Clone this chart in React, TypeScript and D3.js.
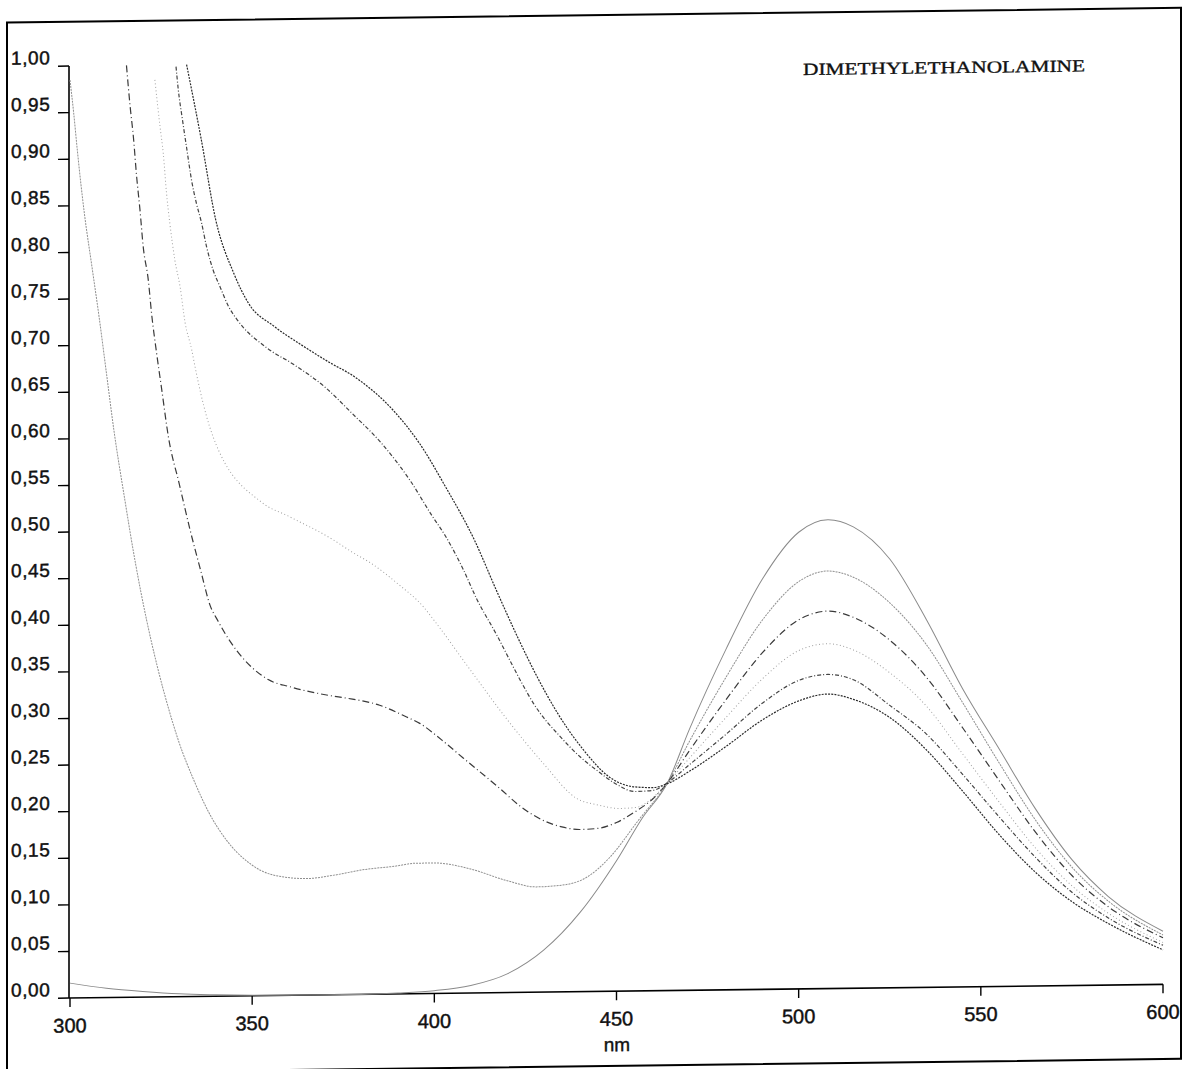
import React from 'react';
import * as d3 from 'd3';

const W = 1186;
const H = 1069;

const xTicks = [300, 350, 400, 450, 500, 550, 600];
const yTicks = [0, 0.05, 0.1, 0.15, 0.2, 0.25, 0.3, 0.35, 0.4, 0.45, 0.5, 0.55, 0.6, 0.65, 0.7, 0.75, 0.8, 0.85, 0.9, 0.95, 1.0];
const title = 'DIMETHYLETHANOLAMINE';
const xLabel = 'nm';

// [nm, absorbance]
const curveA: [number, number][] = [
  [300, 0.016], [310, 0.01], [320, 0.006], [330, 0.003], [340, 0.0015], [350, 0.0005], [360, 0.0], [370, 0.0], [380, 0.0],
  [390, 0.001], [400, 0.003], [410, 0.008], [420, 0.02], [430, 0.045], [440, 0.085], [450, 0.14], [457, 0.185], [464, 0.223],
  [470, 0.28], [480, 0.365], [490, 0.44], [500, 0.49], [508, 0.503], [515, 0.495], [525, 0.46], [535, 0.395], [545, 0.32],
  [555, 0.255], [565, 0.19], [575, 0.135], [585, 0.095], [600, 0.057],
];
const curveB: [number, number][] = [
  [300, 0.985], [301, 0.95], [302, 0.91], [303, 0.873], [304, 0.84], [306, 0.785], [308, 0.73], [310, 0.67], [312, 0.61],
  [315, 0.535], [318, 0.465], [321, 0.405], [324, 0.354], [327, 0.31], [330, 0.272], [334, 0.232], [338, 0.198], [343, 0.167],
  [349, 0.143], [356, 0.129], [365, 0.125], [372, 0.128], [381, 0.134], [389, 0.137], [395, 0.14], [400, 0.14], [410, 0.133],
  [420, 0.12], [428, 0.113], [436, 0.115], [442, 0.123], [448, 0.143], [456, 0.183], [464, 0.223], [470, 0.267], [480, 0.335],
  [490, 0.396], [500, 0.437], [508, 0.448], [515, 0.441], [525, 0.413], [535, 0.368], [545, 0.305], [555, 0.24], [565, 0.178],
  [575, 0.127], [585, 0.09], [600, 0.053],
];
const curveC: [number, number][] = [
  [315.5, 1.0], [316.5, 0.956], [317.4, 0.923], [318.3, 0.88], [319.2, 0.845], [320.1, 0.805], [321.5, 0.769], [322.4, 0.733],
  [323.8, 0.69], [325.2, 0.651], [327, 0.601], [330, 0.55], [333, 0.5], [336, 0.455], [338.4, 0.42], [340.7, 0.402],
  [354.4, 0.339], [360.4, 0.331], [371.4, 0.321], [376, 0.318], [385, 0.31], [392.4, 0.297], [396, 0.29], [402, 0.272],
  [408, 0.252], [418, 0.219], [423.5, 0.2], [430, 0.184], [435, 0.177], [440, 0.174], [445, 0.175], [450, 0.181], [455, 0.192],
  [460, 0.206], [464, 0.223], [470, 0.257], [480, 0.311], [490, 0.361], [500, 0.396], [508, 0.405], [515, 0.398], [525, 0.373],
  [535, 0.333], [545, 0.278], [555, 0.221], [565, 0.165], [575, 0.118], [585, 0.084], [600, 0.05],
];
const curveD: [number, number][] = [
  [323.3, 0.984], [324.7, 0.934], [325.6, 0.905], [326.5, 0.862], [327.4, 0.83], [328.8, 0.79], [330.2, 0.762], [331.6, 0.723],
  [333.4, 0.694], [334.3, 0.676], [337.5, 0.622], [339.3, 0.6], [352.7, 0.529], [360, 0.514], [372.3, 0.488], [377.3, 0.475],
  [382.8, 0.462], [390, 0.44], [397, 0.415], [400, 0.4], [410, 0.346], [419, 0.298], [430, 0.245], [439, 0.2075], [445, 0.2],
  [451, 0.196], [455.5, 0.197], [459, 0.204], [464, 0.223], [470, 0.249], [480, 0.292], [490, 0.333], [500, 0.363], [508, 0.37],
  [515, 0.363], [525, 0.338], [535, 0.302], [545, 0.25], [555, 0.198], [565, 0.148], [575, 0.107], [585, 0.077], [600, 0.045],
];
const curveE: [number, number][] = [
  [329.1, 0.998], [329.7, 0.974], [330.9, 0.94], [332, 0.911], [333.4, 0.875], [334.7, 0.851], [336.1, 0.83], [337.5, 0.804],
  [339.3, 0.779], [341.2, 0.761], [343.5, 0.74], [345.8, 0.726], [354, 0.695], [361.3, 0.677], [370, 0.652], [377.3, 0.624],
  [385.5, 0.591], [393.3, 0.551], [399.3, 0.513], [403, 0.491], [408, 0.454], [411.6, 0.423], [417.1, 0.384], [421.7, 0.349],
  [424, 0.332], [427.2, 0.31], [435, 0.272], [440, 0.252], [445, 0.236], [450, 0.222], [455, 0.214], [460, 0.215], [464, 0.223],
  [470, 0.242], [480, 0.274], [490, 0.307], [500, 0.331], [508, 0.337], [515, 0.331], [525, 0.303], [535, 0.272], [545, 0.228],
  [555, 0.182], [565, 0.138], [575, 0.1], [585, 0.072], [600, 0.042],
];
const curveF: [number, number][] = [
  [332, 1.0], [336, 0.92], [340, 0.833], [345, 0.775], [349, 0.743], [356, 0.718], [363, 0.699], [371, 0.679], [378, 0.663],
  [389, 0.625], [396, 0.59], [403, 0.544], [411, 0.486], [417, 0.432], [423, 0.38], [428, 0.34], [434, 0.298], [441, 0.259],
  [448, 0.23], [455, 0.219], [460, 0.218], [464, 0.222], [470, 0.235], [480, 0.261], [490, 0.289], [500, 0.309], [508, 0.316],
  [515, 0.31], [525, 0.29], [535, 0.255], [545, 0.21], [555, 0.163], [565, 0.122], [575, 0.09], [585, 0.066], [600, 0.037],
];

const series = [
  { data: curveA, stroke: '#8a8a8a', width: 1, dash: '' },
  { data: curveB, stroke: '#8f8f8f', width: 1, dash: '2,1' },
  { data: curveC, stroke: '#3a3a3a', width: 1.2, dash: '7,3,1,3' },
  { data: curveD, stroke: '#a0a0a0', width: 1, dash: '1,2.5' },
  { data: curveE, stroke: '#444444', width: 1.2, dash: '4,2,1,2' },
  { data: curveF, stroke: '#2a2a2a', width: 1.2, dash: '2,1.2' },
];

export default function App() {
  const X0 = 70, X1 = 1163, Y0 = 998.9, Y1 = 66.9;
  const x = d3.scaleLinear().domain([300, 600]).range([X0, X1]);
  const y = d3.scaleLinear().domain([0, 1]).range([Y0, Y1]);
  const line = d3
    .line<[number, number]>()
    .x((d) => x(d[0]))
    .y((d) => y(d[1]))
    .curve(d3.curveMonotoneX);
  const fmt = (v: number) => d3.format('.2f')(v).replace('.', ',');
  const sans = '"Liberation Sans", Arial, sans-serif';

  return (
    <svg
      width={W}
      height={H}
      viewBox={`0 0 ${W} ${H}`}
      style={{ position: 'absolute', left: 0, top: 0, background: '#fff' }}
    >
      <rect x={0} y={0} width={W} height={H} fill="#fff" />
      <g transform="skewY(-0.716)">
        <rect x={7} y={22.6} width={1174} height={1051} fill="none" stroke="#000" strokeWidth={2} />
        {/* axes */}
        <line x1={X0 - 1} x2={X0 - 1} y1={y(1)} y2={y(0)} stroke="#000" strokeWidth={1.6} />
        <line x1={X0 - 1} x2={X1} y1={Y0} y2={Y0} stroke="#000" strokeWidth={1.6} />
        {yTicks.map((v) => (
          <g key={'y' + v}>
            <line x1={X0 - 12} x2={X0 - 1} y1={y(v)} y2={y(v)} stroke="#000" strokeWidth={1.4} />
            <text
              x={11}
              y={y(v) - 2}
              fontFamily={sans}
              fontSize={19}
              letterSpacing={0.6}
              fill="#111"
              stroke="#111"
              strokeWidth={0.45}
            >
              {fmt(v)}
            </text>
          </g>
        ))}
        {xTicks.map((v) => (
          <g key={'x' + v}>
            <line x1={x(v)} x2={x(v)} y1={Y0} y2={Y0 + 9} stroke="#000" strokeWidth={1.4} />
            <text
              x={x(v)}
              y={Y0 + 34.5}
              textAnchor="middle"
              fontFamily={sans}
              fontSize={20}
              fill="#111"
              stroke="#111"
              strokeWidth={0.45}
            >
              {v}
            </text>
          </g>
        ))}
        <text
          x={617}
          y={Y0 + 60}
          textAnchor="middle"
          fontFamily={sans}
          fontSize={19}
          fill="#111"
          stroke="#111"
          strokeWidth={0.4}
        >
          {xLabel}
        </text>
        <text
          x={803}
          y={85}
          fontFamily='"Liberation Serif", "Times New Roman", serif'
          fontSize={17}
          textLength={282}
          lengthAdjust="spacingAndGlyphs"
          fill="#111"
          stroke="#111"
          strokeWidth={0.35}
        >
          {title}
        </text>
        {series.map((s, i) => (
          <path
            key={i}
            d={line(s.data) || ''}
            fill="none"
            stroke={s.stroke}
            strokeWidth={s.width}
            strokeDasharray={s.dash || undefined}
          />
        ))}
      </g>
    </svg>
  );
}
